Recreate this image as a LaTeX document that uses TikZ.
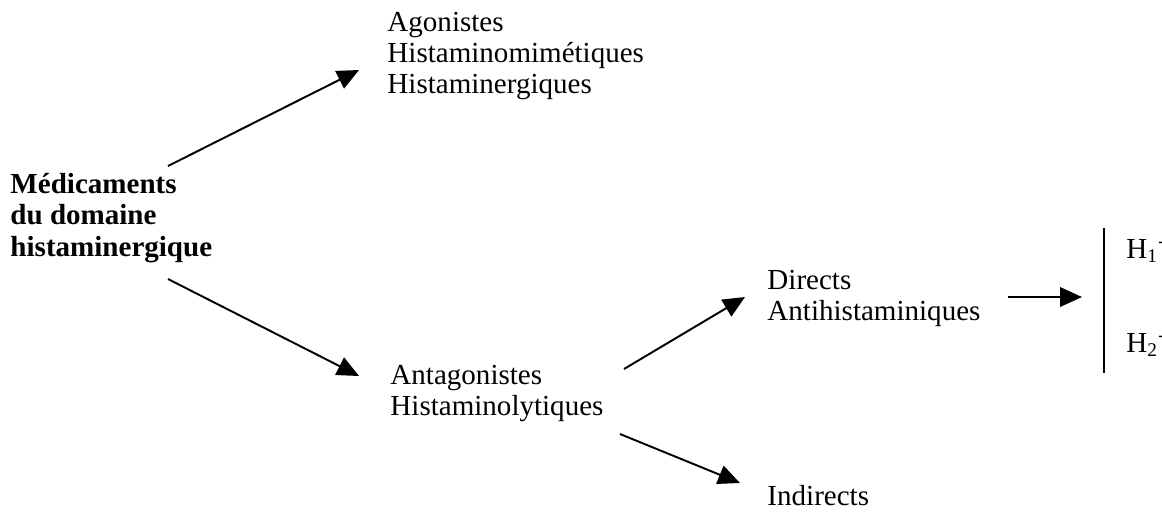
\documentclass[tikz,border=0pt]{standalone}
\usepackage{fontspec}
\setmainfont{Liberation Serif}
\usetikzlibrary{arrows.meta}
\begin{document}
\begin{tikzpicture}[x=0.4132pt,y=-0.4132pt,
  txt/.style={inner sep=0pt,anchor=base west,align=left,font=\fontsize{12}{12.8}\selectfont},
  btxt/.style={txt,font=\fontsize{12}{13}\selectfont\bfseries},
  arr/.style={line width=0.8pt,-{Triangle[length=9pt,width=8pt]}},
  bar/.style={line width=0.8pt}]
\useasboundingbox (0,0) rectangle (1162,513);
\node[btxt] (med) at (10,256) {Médicaments\\du domaine\\histaminergique};
\node[txt] (ago) at (387,93) {Agonistes\\Histaminomimétiques\\Histaminergiques};
\node[txt] (ant) at (390,415) {Antagonistes\\Histaminolytiques};
\node[txt] (dir) at (767,320) {Directs\\Antihistaminiques};
\node[txt] (ind) at (767,505) {Indirects};
\node[txt] (h1) at (1126,258) {H\textsubscript{1}\textsuperscript{-}};
\node[txt] (h2) at (1126,352) {H\textsubscript{2}\textsuperscript{-}};
\coordinate (a1s) at (168,166); \coordinate (a1e) at (359,70);
\coordinate (a2s) at (168,279); \coordinate (a2e) at (359,376);
\coordinate (a3s) at (624,369); \coordinate (a3e) at (745,297);
\coordinate (a4s) at (620,434); \coordinate (a4e) at (740,483);
\coordinate (a5s) at (1008,297); \coordinate (a5e) at (1082,297);
\coordinate (bt) at (1104,228); \coordinate (bb) at (1104,373);
\draw[arr] (a1s) -- (a1e);
\draw[arr] (a2s) -- (a2e);
\draw[arr] (a3s) -- (a3e);
\draw[arr] (a4s) -- (a4e);
\draw[arr] (a5s) -- (a5e);
\draw[bar] (bt) -- (bb);
\end{tikzpicture}
\end{document}
